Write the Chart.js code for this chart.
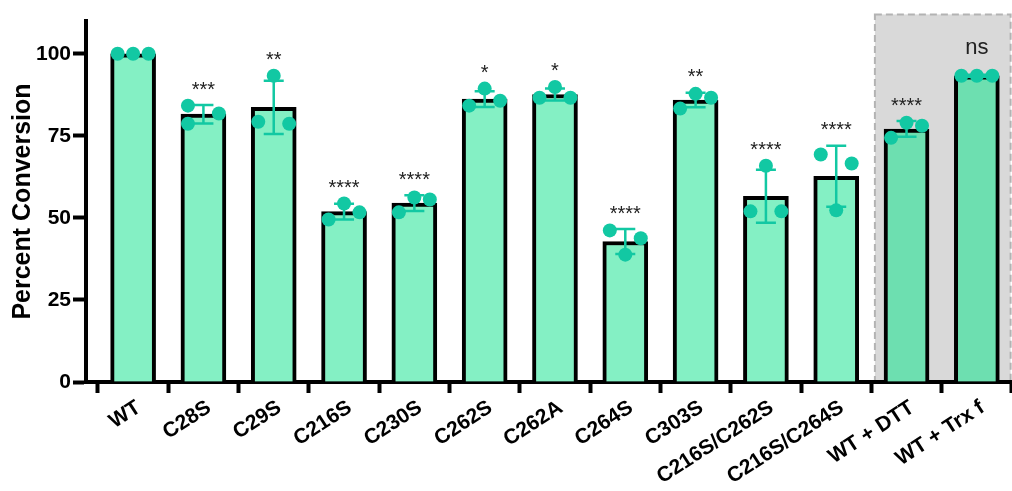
<!DOCTYPE html>
<html lang="en">
<head>
    <meta charset="UTF-8">
    <title>Percent Conversion</title>
    <script src="https://cdn.jsdelivr.net/npm/chart.js"></script>
    <style>
        html, body { margin: 0; padding: 0; background: #fff; }
        .wrap { width: 1012px; height: 491px; }
    </style>
</head>
<body>
<div class="wrap"><canvas id="myChart" width="1012" height="491"></canvas></div>
<script>
// data
const categories = ['WT', 'C28S', 'C29S', 'C216S', 'C230S', 'C262S', 'C262A', 'C264S', 'C303S', 'C216S/C262S', 'C216S/C264S', 'WT + DTT', 'WT + Trx f'];
const means = [100, 81.6, 83.7, 51.9, 54.5, 86.2, 87.6, 42.8, 85.9, 56.6, 62.7, 77.1, 93.3];
const sds   = [0, 2.8, 8.1, 2.4, 2.4, 2.4, 1.8, 3.8, 2.2, 8.1, 9.3, 2.4, 0.3];
const rep1  = [100, 84.2, 93.3, 49.5, 51.7, 84.2, 86.6, 46.2, 83.3, 65.9, 69.3, 74.4, 93.3];
const rep2  = [100, 81.8, 78.7, 54.4, 56.2, 89.4, 89.9, 43.8, 87.8, 52.0, 66.6, 79.0, 93.3];
const rep3  = [100, 78.7, 79.3, 51.7, 55.6, 85.7, 86.6, 38.8, 86.6, 52.0, 52.3, 78.1, 93.3];
const significance = ['', '***', '**', '****', '****', '*', '*', '****', '**', '****', '****', '****', 'ns'];
const shadedGroup = ['WT + DTT', 'WT + Trx f'];
const yTicks = [0, 25, 50, 75, 100];

const FONT = "'Liberation Sans', Arial, sans-serif";
const TEAL = '#12c8a3';

// spread replicate dots sideways like the original scatter (prism style)
const SLOT = 0.22;
function dotOffsets(vals) {
    const order = vals.map((v, k) => k).sort((a, b) => vals[b] - vals[a]);
    const off = vals.map(() => 0);
    const groups = [];
    let cur = [order[0]];
    for (let k = 1; k < order.length; k++) {
        if (vals[cur[cur.length - 1]] - vals[order[k]] < 4.3) cur.push(order[k]);
        else { groups.push(cur); cur = [order[k]]; }
    }
    groups.push(cur);
    groups.forEach(g => {
        let slots;
        if (g.length === 1) slots = [0];
        else if (g.length === 2) slots = [-1, 1];
        else if (vals[g[0]] - vals[g[2]] > 5.35) slots = [-1, 1, -1];
        else slots = [0, 1, -1];
        g.forEach((k, j) => { off[k] = slots[j] * SLOT; });
    });
    return off;
}

const barData = categories.map((c, i) => ({ x: i, y: means[i] }));
const dotData = [];
categories.forEach((c, i) => {
    const vals = [rep1[i], rep2[i], rep3[i]];
    const off = dotOffsets(vals);
    vals.forEach((v, k) => dotData.push({ x: i + off[k], y: v }));
});
const barColors = categories.map(c => shadedGroup.includes(c) ? '#6ddfb0' : '#84f0c4');

const shadeBox = {
    id: 'shadeBox',
    beforeDraw(chart) {
        const { ctx, scales: { x, y } } = chart;
        const x0 = x.getPixelForValue(10.55), x1 = x.getPixelForValue(12.48);
        const y0 = y.getPixelForValue(112), y1 = y.getPixelForValue(0);
        ctx.save();
        ctx.fillStyle = '#d9d9d9';
        ctx.fillRect(x0, y0, x1 - x0, y1 - y0);
        ctx.strokeStyle = '#b3b3b3';
        ctx.lineWidth = 2;
        ctx.setLineDash([7, 4]);
        ctx.strokeRect(x0, y0, x1 - x0, y1 - y0);
        ctx.restore();
    }
};

const errorBars = {
    id: 'errorBars',
    afterDatasetDraw(chart, args) {
        if (args.index !== 0) return;
        const { ctx, scales: { x, y } } = chart;
        ctx.save();
        ctx.strokeStyle = TEAL;
        ctx.lineWidth = 2.5;
        categories.forEach((c, i) => {
            if (!sds[i]) return;
            const px = x.getPixelForValue(i);
            const top = y.getPixelForValue(means[i] + sds[i]);
            const bot = y.getPixelForValue(means[i] - sds[i]);
            ctx.beginPath();
            ctx.moveTo(px, top); ctx.lineTo(px, bot);
            ctx.moveTo(px - 10, top); ctx.lineTo(px + 10, top);
            ctx.moveTo(px - 10, bot); ctx.lineTo(px + 10, bot);
            ctx.stroke();
        });
        ctx.restore();
    }
};

const sigLabels = {
    id: 'sigLabels',
    afterDatasetsDraw(chart) {
        const { ctx, scales: { x, y } } = chart;
        ctx.save();
        ctx.textAlign = 'center';
        ctx.textBaseline = 'middle';
        ctx.fillStyle = '#222';
        categories.forEach((c, i) => {
            const s = significance[i];
            if (!s) return;
            const hi = Math.max(means[i] + sds[i], rep1[i], rep2[i], rep3[i]);
            const top = Math.min(y.getPixelForValue(means[i] + sds[i]), y.getPixelForValue(hi) - 7);
            if (s === 'ns') {
                ctx.font = '22px ' + FONT;
                ctx.fillText(s, x.getPixelForValue(i), top - 20);
            } else {
                ctx.font = '20px ' + FONT;
                ctx.fillText(s, x.getPixelForValue(i), top - 8);
            }
        });
        ctx.restore();
    }
};

// rotated category names, right end hung under each tick
const xLabels = {
    id: 'xLabels',
    afterDraw(chart) {
        const { ctx, scales: { x } } = chart;
        ctx.save();
        ctx.font = 'bold 21px ' + FONT;
        ctx.fillStyle = '#000';
        ctx.textAlign = 'right';
        ctx.textBaseline = 'top';
        categories.forEach((c, i) => {
            ctx.save();
            ctx.translate(x.getPixelForValue(i), x.top + 15);
            ctx.rotate(-33 * Math.PI / 180);
            ctx.fillText(c, 0, 0);
            ctx.restore();
        });
        ctx.restore();
    }
};

new Chart(document.getElementById('myChart'), {
    type: 'bar',
    data: {
        datasets: [{
            type: 'bar',
            data: barData,
            backgroundColor: barColors,
            borderColor: '#000',
            borderWidth: 4,
            barThickness: 45,
            order: 2
        }, {
            type: 'scatter',
            data: dotData,
            backgroundColor: TEAL,
            borderWidth: 0,
            pointRadius: 7,
            clip: false,
            order: 1
        }]
    },
    options: {
        responsive: false,
        animation: false,
        layout: { autoPadding: false, padding: { top: 21, left: 0, right: 0, bottom: 0 } },
        plugins: { legend: { display: false }, tooltip: { enabled: false } },
        scales: {
            x: {
                type: 'linear',
                min: -0.67,
                max: 12.5,
                offset: false,
                afterBuildTicks: s => { s.ticks = categories.map((c, i) => ({ value: i })); },
                afterFit: s => { s.height = 109; s.paddingLeft = 0; s.paddingRight = 0; },
                grid: { drawOnChartArea: false, drawTicks: true, tickLength: 11, tickWidth: 4, tickColor: '#000' },
                border: { display: true, width: 4, color: '#000' },
                ticks: { display: false }
            },
            y: {
                min: 0,
                max: 110,
                afterBuildTicks: s => { s.ticks = yTicks.map(v => ({ value: v })); },
                afterFit: s => { s.width = 86; },
                grid: { drawOnChartArea: false, drawTicks: true, tickLength: 13, tickWidth: 4, tickColor: '#000' },
                border: { display: true, width: 4, color: '#000' },
                ticks: {
                    padding: 2,
                    color: '#000',
                    font: { family: FONT, size: 21, weight: 'bold' }
                },
                title: {
                    display: true,
                    text: 'Percent Conversion',
                    color: '#000',
                    padding: { top: 8, bottom: 0 },
                    font: { family: FONT, size: 25, weight: 'bold' }
                }
            }
        }
    },
    plugins: [shadeBox, errorBars, sigLabels, xLabels]
});
</script>
</body>
</html>
